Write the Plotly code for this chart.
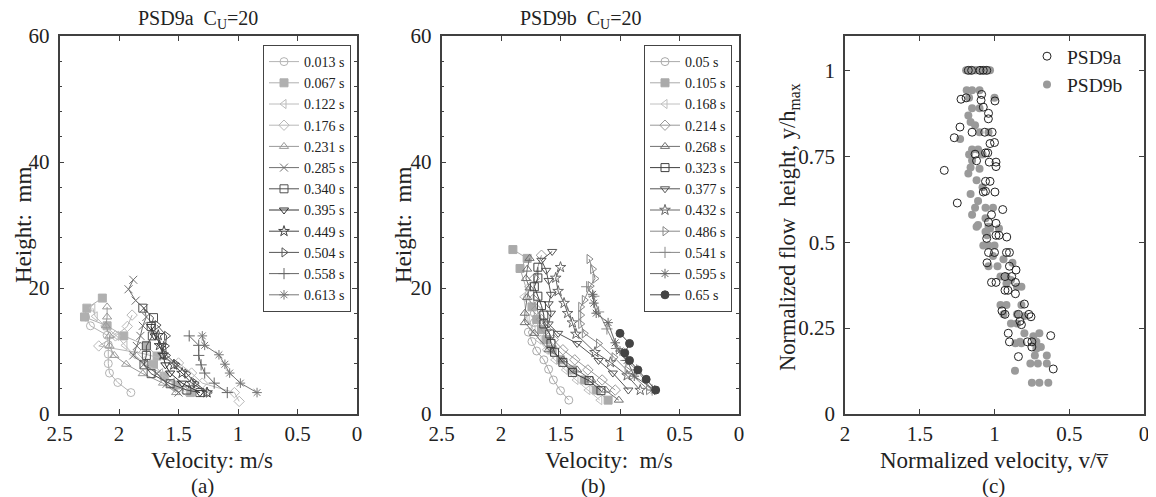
import plotly.graph_objects as go

# ---------------- Panel (a): PSD9a ----------------
A_LABELS = ["0.013 s", "0.067 s", "0.122 s", "0.176 s", "0.231 s", "0.285 s",
            "0.340 s", "0.395 s", "0.449 s", "0.504 s", "0.558 s", "0.613 s"]
A_VEL = [
    [1.90, 2.01, 2.08, 2.09, 2.09, 2.09, 2.10, 2.24, 2.28],
    [1.40, 1.52, 1.62, 1.71, 1.68, 1.77, 1.96, 2.10, 2.29, 2.27, 2.14],
    [1.45, 1.55, 1.65, 1.78, 1.88, 1.95, 2.02, 2.12, 2.20, 2.22],
    [0.99, 1.03, 1.30, 1.39, 1.50, 1.80, 2.17, 2.03, 1.93, 1.89],
    [1.52, 1.63, 1.80, 1.94, 2.04, 2.08, 2.08, 2.11, 2.10, 2.10],
    [1.50, 1.60, 1.68, 1.79, 1.88, 1.85, 1.82, 1.80, 1.77, 1.79, 1.86, 1.92, 1.88],
    [1.32, 1.43, 1.57, 1.73, 1.79, 1.77, 1.77, 1.72, 1.73, 1.71, 1.80],
    [1.32, 1.47, 1.57, 1.61, 1.63, 1.64, 1.70, 1.73],
    [1.26, 1.39, 1.47, 1.54, 1.63, 1.66, 1.67],
    [1.25, 1.36, 1.43, 1.52, 1.60, 1.61, 1.60, 1.68],
    [1.09, 1.20, 1.28, 1.31, 1.33, 1.33, 1.41],
    [0.84, 0.98, 1.07, 1.11, 1.16, 1.28, 1.30],
]
A_HGT = [
    [3.4, 5.0, 6.5, 8.0, 9.5, 11.0, 12.5, 14.0, 15.4],
    [3.4, 4.6, 6.0, 7.9, 9.2, 10.9, 12.4, 14.0, 15.4, 16.8, 18.4],
    [3.6, 5.0, 6.5, 8.0, 9.5, 10.9, 12.4, 14.0, 15.5, 16.8],
    [2.0, 3.4, 4.9, 6.5, 8.1, 9.6, 10.8, 12.4, 13.9, 15.7],
    [3.4, 4.9, 6.4, 7.9, 9.3, 10.8, 12.4, 14.0, 15.4, 17.0],
    [3.4, 4.8, 6.4, 7.9, 9.3, 10.8, 12.4, 14.0, 15.4, 16.8, 18.0, 19.8, 21.3],
    [3.4, 3.8, 4.8, 6.4, 7.8, 9.3, 10.8, 12.4, 13.9, 15.3, 16.8],
    [3.4, 4.9, 6.5, 7.8, 9.3, 10.8, 12.4, 13.9],
    [3.4, 4.9, 6.5, 7.8, 9.4, 10.9, 12.5],
    [3.4, 4.9, 6.4, 7.9, 9.3, 10.8, 12.4, 14.1],
    [3.4, 4.9, 6.5, 7.8, 9.3, 10.9, 12.4],
    [3.4, 4.9, 6.5, 7.9, 9.4, 10.9, 12.4],
]

# ---------------- Panel (b): PSD9b ----------------
B_LABELS = ["0.05 s", "0.105 s", "0.168 s", "0.214 s", "0.268 s", "0.323 s",
            "0.377 s", "0.432 s", "0.486 s", "0.541 s", "0.595 s", "0.65 s"]
B_VEL = [
    [1.43, 1.50, 1.56, 1.60, 1.64, 1.70, 1.74, 1.77, 1.72, 1.72],
    [1.10, 1.20, 1.30, 1.40, 1.50, 1.57, 1.62, 1.66, 1.70, 1.74, 1.84, 1.78, 1.90],
    [1.17, 1.27, 1.37, 1.46, 1.55, 1.62, 1.68, 1.73, 1.78, 1.81, 1.77],
    [1.04, 1.15, 1.27, 1.38, 1.48, 1.56, 1.62, 1.66, 1.70, 1.73, 1.72, 1.66],
    [1.01, 1.12, 1.24, 1.36, 1.48, 1.60, 1.72, 1.80, 1.80, 1.78, 1.76, 1.79, 1.78, 1.76],
    [1.16, 1.26, 1.40, 1.48, 1.55, 1.58, 1.59, 1.64, 1.64, 1.66, 1.69, 1.72, 1.69, 1.69],
    [0.93, 1.06, 1.18, 1.36, 1.52, 1.60, 1.58, 1.60, 1.58, 1.60, 1.62, 1.66, 1.57],
    [0.83, 0.94, 1.08, 1.21, 1.37, 1.40, 1.44, 1.47, 1.52, 1.54, 1.50],
    [0.76, 0.94, 1.05, 1.18, 1.30, 1.33, 1.33, 1.33, 1.30, 1.25, 1.21, 1.23, 1.26],
    [0.73, 0.86, 0.95, 1.03, 1.11, 1.18, 1.22, 1.28],
    [0.71, 0.88, 0.94, 1.00, 1.04, 1.10, 1.20, 1.22, 1.23],
    [0.70, 0.78, 0.85, 0.92, 0.96, 0.92, 1.00],
]
B_HGT = [
    [2.2, 3.7, 5.4, 7.1, 8.6, 10.0, 11.5, 13.0, 14.5, 16.0],
    [2.2, 3.8, 5.4, 7.0, 8.6, 10.2, 11.8, 13.4, 15.0, 17.0, 23.1, 24.7, 26.1],
    [2.2, 3.8, 5.4, 7.0, 8.6, 10.2, 11.8, 13.4, 15.0, 18.6, 20.2],
    [3.8, 5.4, 7.0, 8.6, 10.2, 11.8, 13.4, 15.0, 16.6, 18.2, 21.5, 25.2],
    [2.2, 3.8, 5.4, 7.0, 8.6, 10.2, 12.8, 14.5, 16.0, 18.5, 20.0, 21.5, 23.0, 24.7],
    [3.7, 5.3, 6.6, 8.2, 9.8, 11.2, 12.7, 14.3, 15.7, 17.2, 18.7, 20.2, 21.6, 23.3],
    [3.8, 6.5, 8.5, 11.2, 12.8, 14.3, 16.0, 17.5, 19.0, 21.2, 22.8, 24.4, 25.8],
    [3.8, 6.1, 8.2, 9.8, 12.7, 14.5, 16.0, 17.6, 19.5, 21.6, 23.3],
    [3.8, 6.9, 9.0, 11.2, 12.8, 14.3, 15.7, 17.0, 18.1, 20.3, 21.5, 23.0, 24.6],
    [3.8, 7.0, 8.5, 10.4, 13.5, 16.2, 18.7, 20.2],
    [3.8, 6.0, 8.5, 10.0, 11.3, 14.5, 16.0, 17.6, 19.0],
    [3.8, 5.5, 7.0, 8.5, 9.7, 11.2, 12.8],
]

# ---------------- Panel (c): normalized profiles ----------------
C_A_V = [1.175, 1.153, 1.097, 1.075, 1.052,
         1.224, 1.19, 1.086, 1.09, 0.997, 1.075, 1.04, 1.041, 1.231, 1.269, 1.15, 1.065,
         1.016, 1.03, 1.00, 1.06, 1.045, 1.13, 1.12, 1.035, 0.99, 0.99, 1.336, 1.06, 1.03,
         1.075, 1.06, 0.997, 1.249, 0.945, 1.02, 1.04, 0.99, 1.052, 0.99, 0.97, 0.918,
         1.04, 0.90, 1.05, 0.90, 0.856, 0.93, 0.885, 1.02, 0.99, 0.93, 0.91, 0.86, 0.86,
         0.80, 0.95, 0.93, 0.84, 0.77, 0.83, 0.82, 0.908, 0.624, 0.90, 0.78, 0.75, 0.75,
         0.84, 0.607, 0.756, 1.00, 0.92]
C_A_Y = [1.0, 1.0, 1.0, 1.0, 1.0,
         0.916, 0.92, 0.930, 0.913, 0.911, 0.893, 0.875, 0.859, 0.835, 0.804, 0.82, 0.82,
         0.82, 0.787, 0.79, 0.76, 0.76, 0.756, 0.737, 0.733, 0.733, 0.72, 0.709, 0.677, 0.677,
         0.646, 0.648, 0.646, 0.614, 0.595, 0.58, 0.558, 0.555, 0.511, 0.52, 0.52, 0.515,
         0.47, 0.47, 0.44, 0.43, 0.419, 0.40, 0.40, 0.383, 0.383, 0.36, 0.36, 0.383, 0.35,
         0.32, 0.30, 0.29, 0.29, 0.29, 0.27, 0.26, 0.235, 0.228, 0.21, 0.21, 0.21, 0.195,
         0.167, 0.131, 0.283, 0.47, 0.47]
C_B_V = [1.19, 1.16, 1.13, 1.12, 1.09, 1.06, 1.04, 1.03,
         1.186, 1.15, 1.10, 1.00, 1.17, 1.15, 1.10, 1.175, 1.16, 1.13, 1.10, 1.04, 1.23,
         1.15, 1.11, 1.17, 1.08, 1.15, 1.175, 1.16, 1.10, 1.12, 1.08, 1.16, 1.11, 1.06,
         1.01, 1.13, 1.15, 1.06, 1.11, 1.03, 0.97, 1.06,
         1.12, 1.04, 1.05, 1.075, 1.04, 1.00, 1.01, 0.94, 1.04, 0.98, 0.88, 0.96, 0.92,
         0.89, 0.92, 0.85, 0.82, 0.96, 0.92, 0.82, 0.94, 0.85, 0.80, 0.89, 0.85, 0.80,
         0.70, 0.83, 0.72, 0.69, 0.73, 0.65, 0.76, 0.71, 0.65, 0.863, 0.75, 0.70, 0.64,
         0.86, 0.82, 0.74, 0.73, 0.72]
C_B_Y = [1.0, 1.0, 1.0, 1.0, 1.0, 1.0, 1.0, 1.0,
         0.942, 0.942, 0.942, 0.92, 0.92, 0.89, 0.89, 0.869, 0.85, 0.84, 0.82, 0.82, 0.80,
         0.77, 0.77, 0.755, 0.755, 0.738, 0.70, 0.717, 0.714, 0.68, 0.66, 0.64, 0.62, 0.60,
         0.60, 0.60, 0.58, 0.57, 0.55, 0.54, 0.54, 0.53,
         0.545, 0.545, 0.52, 0.49, 0.49, 0.49, 0.46, 0.45, 0.43, 0.43, 0.44, 0.40, 0.40,
         0.39, 0.38, 0.37, 0.37, 0.317, 0.317, 0.317, 0.29, 0.29, 0.285, 0.263, 0.263, 0.235,
         0.235, 0.21, 0.21, 0.195, 0.17, 0.17, 0.147, 0.147, 0.147, 0.126, 0.091, 0.091, 0.091,
         0.206, 0.206, 0.226, 0.206, 0.19]

# ---------------- styling ----------------
A_SYMBOLS = ["circle-open", "square", "triangle-left-open", "diamond-open", "triangle-up-open",
             "x-thin-open", "square-open", "triangle-down-open", "star-open",
             "triangle-right-open", "cross-thin-open", "asterisk-open"]
A_COLORS = ["#b4b4b4", "#b0b0b0", "#bcbcbc", "#b8b8b8", "#9a9a9a", "#707070",
            "#505050", "#333333", "#444444", "#555555", "#666666", "#777777"]
B_SYMBOLS = ["circle-open", "square", "triangle-left-open", "diamond-open", "triangle-up-open",
             "square-open", "triangle-down-open", "star-open", "triangle-right-open",
             "cross-thin-open", "asterisk-open", "circle"]
B_COLORS = ["#aaaaaa", "#aaaaaa", "#c0c0c0", "#999999", "#707070", "#404040",
            "#555555", "#666666", "#888888", "#888888", "#666666", "#444444"]

# page body has an 8 px margin: the figure is sized to fit the 1156x497 window
OFF = 8
W, H = 1156 - OFF, 497 - OFF
FONT = "Liberation Serif"
AX = "#404040"
TXT = "#222222"


def px(xp):
    return (xp - OFF) / W


def py(yp):
    return 1 - (yp - OFF) / H


fig = go.Figure()

for i, lab in enumerate(A_LABELS):
    fig.add_trace(go.Scatter(
        x=A_VEL[i], y=A_HGT[i], mode="lines+markers", name=lab,
        line=dict(color=A_COLORS[i], width=1),
        marker=dict(symbol=A_SYMBOLS[i], size=8, color=A_COLORS[i],
                    line=dict(color=A_COLORS[i], width=1)),
        xaxis="x", yaxis="y", legend="legend"))

for i, lab in enumerate(B_LABELS):
    fig.add_trace(go.Scatter(
        x=B_VEL[i], y=B_HGT[i], mode="lines+markers", name=lab,
        line=dict(color=B_COLORS[i], width=1),
        marker=dict(symbol=B_SYMBOLS[i], size=8, color=B_COLORS[i],
                    line=dict(color=B_COLORS[i], width=1)),
        xaxis="x2", yaxis="y2", legend="legend2"))

fig.add_trace(go.Scatter(
    x=C_B_V, y=C_B_Y, mode="markers", name="PSD9b",
    marker=dict(symbol="circle", size=8, color="#9a9a9a", line=dict(width=0)),
    xaxis="x3", yaxis="y3", legend="legend3", legendrank=2))
fig.add_trace(go.Scatter(
    x=C_A_V, y=C_A_Y, mode="markers", name="PSD9a",
    marker=dict(symbol="circle-open", size=8, color="#222222", line=dict(width=1)),
    xaxis="x3", yaxis="y3", legend="legend3", legendrank=1))

yd = [py(414), py(36)]
axcommon = dict(showline=True, linecolor=AX, linewidth=1.5, mirror="ticks",
                ticks="inside", ticklen=5, tickcolor=AX, tickwidth=1,
                showgrid=False, zeroline=False, automargin=False,
                tickfont=dict(family=FONT, size=21, color=TXT))
xcommon = dict(ticklabelstandoff=0, **axcommon)
ycommon = dict(ticklabelstandoff=4, **axcommon)
minor = dict(dtick=4, ticks="inside", ticklen=3, tickcolor=AX)

fig.update_layout(
    template="none",
    width=W, height=H, margin=dict(l=0, r=0, t=0, b=0, pad=0, autoexpand=False),
    paper_bgcolor="white", plot_bgcolor="white", showlegend=True,
    xaxis=dict(domain=[px(59.5), px(357)], range=[2.5, 0], dtick=0.5, anchor="y", **xcommon),
    yaxis=dict(domain=yd, range=[0, 60], dtick=20, anchor="x", minor=minor, **ycommon),
    xaxis2=dict(domain=[px(441.5), px(739)], range=[2.5, 0], dtick=0.5, anchor="y2", **xcommon),
    yaxis2=dict(domain=yd, range=[0, 60], dtick=20, anchor="x2", minor=minor, **ycommon),
    xaxis3=dict(domain=[px(845), px(1144)], range=[2, 0], dtick=0.5, anchor="y3", **xcommon),
    yaxis3=dict(domain=yd, range=[0, 1.1], anchor="x3",
                tickvals=[0, 0.25, 0.5, 0.75, 1], ticktext=["0", "0.25", "0.5", "0.75", "1"],
                **ycommon),
    legend=dict(x=px(351), y=py(45), xanchor="right", yanchor="top",
                bordercolor="#444444", borderwidth=1, bgcolor="white",
                font=dict(family=FONT, size=14, color=TXT),
                itemwidth=30, tracegroupgap=0),
    legend2=dict(x=px(732), y=py(45), xanchor="right", yanchor="top",
                 bordercolor="#444444", borderwidth=1, bgcolor="white",
                 font=dict(family=FONT, size=14, color=TXT),
                 itemwidth=30, tracegroupgap=0),
    legend3=dict(x=px(1027), y=py(37), xanchor="left", yanchor="top",
                 borderwidth=0, bgcolor="rgba(0,0,0,0)",
                 font=dict(family=FONT, size=19.5, color=TXT),
                 itemwidth=30, traceorder="normal"),
)

ann = []


def text(x, y, s, size=20, angle=0):
    ann.append(dict(x=px(x), y=py(y), xref="paper", yref="paper", text=s,
                    showarrow=False, textangle=angle, xanchor="center", yanchor="middle",
                    font=dict(family=FONT, size=size, color=TXT)))


NB = "\u00a0"
text(198, 19, "PSD9a" + NB + NB + "C<sub>U</sub>=20", size=20)
text(580, 19, "PSD9b" + NB + NB + "C<sub>U</sub>=20", size=20)
text(212, 460, "Velocity: m/s", size=23)
text(609, 460, "Velocity:" + NB + NB + "m/s", size=23)
text(994, 460, "Normalized velocity, v/v\u0305", size=23)
text(24, 225, "Height:" + NB + NB + "mm", size=23, angle=-90)
text(404, 225, "Height:" + NB + NB + "mm", size=23, angle=-90)
text(789, 227, "Normalized flow" + NB + NB + "height, y/h<sub>max</sub>", size=22.5, angle=-90)
text(202, 486, "(a)", size=21)
text(593, 486, "(b)", size=21)
text(993, 486, "(c)", size=21)
fig.update_layout(annotations=ann)

fig.write_html("out.html")
